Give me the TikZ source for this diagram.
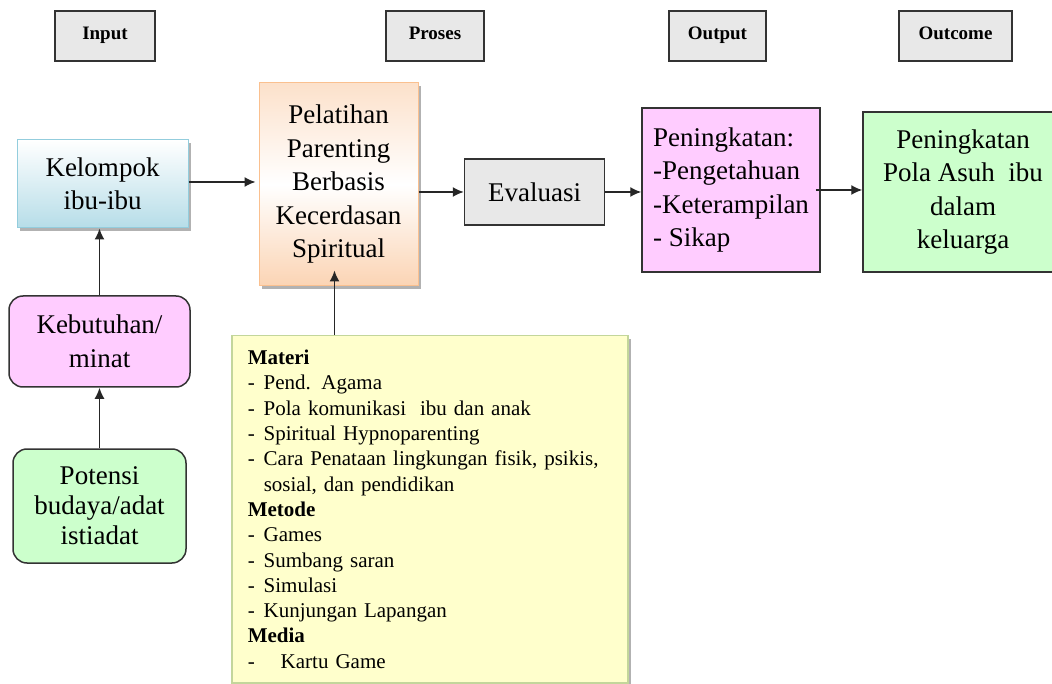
\documentclass[tikz,border=0pt]{standalone}
\usepackage{fontspec}
\setmainfont{Liberation Serif}
\usetikzlibrary{arrows.meta,shadows}

\definecolor{hdrgray}{HTML}{E8E8E8}
\definecolor{edgegray}{HTML}{333333}
\definecolor{pinkbox}{HTML}{FFCCFF}
\definecolor{greenbox}{HTML}{CCFFCC}
\definecolor{bluebox}{HTML}{B6DDE8}
\definecolor{blueedge}{HTML}{93CDDD}
\definecolor{peach}{HTML}{FBD4B4}
\definecolor{peachedge}{HTML}{FAC08F}
\definecolor{yellowbox}{HTML}{FFFFCC}
\definecolor{oliveedge}{HTML}{C3D69B}

\newcommand{\bigtxt}{\fontsize{27}{33.5}\selectfont}
\newcommand{\hdrtxt}{\fontsize{19}{23}\selectfont\bfseries}
\newcommand{\listtxt}{\fontsize{21}{25.3}\selectfont}
\newcommand{\itm}[1]{\makebox[16pt][l]{-}\mbox{#1}}

\tikzset{
  header/.style={draw=edgegray, line width=1.5pt, fill=hdrgray, minimum height=50pt, font=\hdrtxt,
                 text height=13pt, text depth=5pt},
  plainbox/.style={draw=edgegray, line width=1.5pt, align=center, font=\bigtxt},
  roundbox/.style={plainbox, rounded corners=14pt},
  shadowed/.style={drop shadow={shadow xshift=3pt, shadow yshift=-3pt, fill=black!30, opacity=1}},
  arrow/.style={->, >={Latex[length=11pt,width=10pt]}, line width=1.4pt, draw=black!85},
}

\begin{document}
\begin{tikzpicture}[x=1pt, y=-1pt]
  \useasboundingbox (0,0) rectangle (1052,684);

  % headers
  \node[header, minimum width=100pt] (hinput) at (105,36) {Input};
  \node[header, minimum width=98pt] (hproses) at (435,36) {Proses};
  \node[header, minimum width=97pt] (houtput) at (717.5,36) {Output};
  \node[header, minimum width=113pt] (houtcome) at (955.5,36) {Outcome};

  % main row
  \node[plainbox, draw=blueedge, line width=1pt, top color=white, bottom color=bluebox, shadowed,
        minimum width=171pt, minimum height=88pt] (kelompok) at (102.5,184) {Kelompok\\ibu-ibu};
  \node[plainbox, draw=peachedge, line width=1pt, top color=peach!70, bottom color=peach, middle color=white, shadowed,
        minimum width=159pt, minimum height=203pt] (pelatihan) at (338.5,184.5) {Pelatihan\\Parenting\\Berbasis\\Kecerdasan\\Spiritual};
  \node[plainbox, fill=hdrgray, minimum width=140pt, minimum height=66pt] (evaluasi) at (534.5,192) {Evaluasi};
  \node[plainbox, fill=pinkbox, align=left, minimum width=178pt, minimum height=164pt] (peningkatan) at (731,190)
        {Peningkatan:\\-Pengetahuan\\-Keterampilan\\- Sikap};
  \node[plainbox, fill=greenbox, minimum width=200pt, minimum height=160pt] (outcome) at (963,192)
        {Peningkatan\\Pola Asuh\ \ ibu\\dalam\\keluarga};

  % left column
  \node[roundbox, fill=pinkbox, minimum width=181pt, minimum height=91pt] (kebutuhan) at (99.5,341.5) {Kebutuhan/\\minat};
  \node[roundbox, fill=greenbox, minimum width=173pt, minimum height=114pt, font=\fontsize{27}{30}\selectfont] (potensi) at (99.5,506)
        {Potensi\\budaya/adat\\istiadat};

  % materi
  \node[draw=oliveedge, line width=1.5pt, fill=yellowbox, shadowed, anchor=north west, text width=364pt, align=left,
        inner xsep=16pt, inner ysep=12pt, minimum height=347pt, font=\listtxt] (materi) at (231,335)
        {\textbf{Materi}\\
         \itm{Pend. Agama}\\
         \itm{Pola komunikasi\ \ ibu dan anak}\\
         \itm{Spiritual Hypnoparenting}\\
         \itm{Cara Penataan\ lingkungan\ fisik,\ psikis,}\\
         \hspace*{16pt}sosial,\ dan pendidikan\\
         \textbf{Metode}\\
         \itm{Games}\\
         \itm{Sumbang saran}\\
         \itm{Simulasi}\\
         \itm{Kunjungan Lapangan}\\
         \textbf{Media}\\
         \makebox[33pt][l]{-}Kartu Game};

  % connectors
  \draw[arrow, shorten >=3pt] ([yshift=2pt]kelompok.east) -- ([yshift=2pt]kelompok.east -| pelatihan.west);
  \draw[arrow] (pelatihan.east |- evaluasi.west) -- (evaluasi.west);
  \draw[arrow] (evaluasi.east) -- (evaluasi.east -| peningkatan.west);
  \draw[arrow, shorten <=-5pt] (peningkatan.east) -- (peningkatan.east -| outcome.west);
  \draw[arrow] (kebutuhan.north) -- (kebutuhan.north |- kelompok.south);
  \draw[arrow] (potensi.north) -- (potensi.north |- kebutuhan.south);
  \draw[arrow] ([xshift=-4pt]pelatihan.south |- materi.north) -- ([xshift=-4pt, yshift=16pt]pelatihan.south);
\end{tikzpicture}
\end{document}
